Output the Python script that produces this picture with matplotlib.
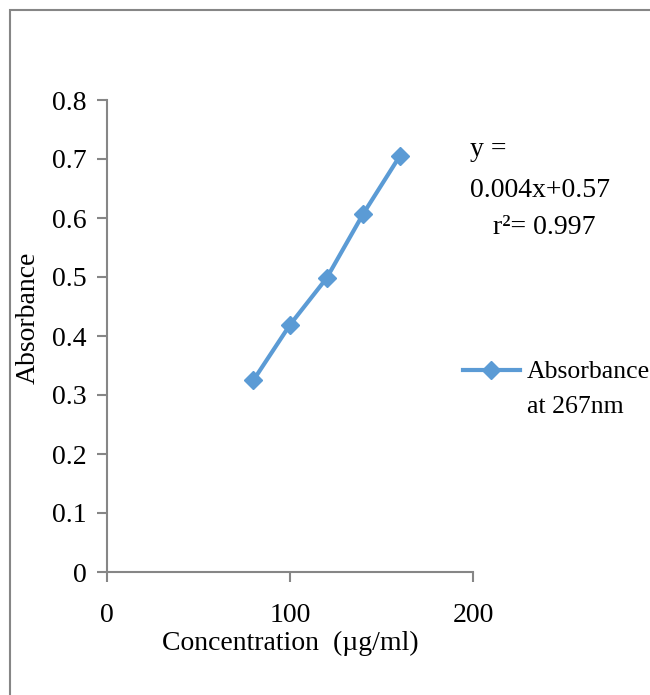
import numpy as np
import matplotlib.pyplot as plt
from matplotlib.patches import Rectangle

# calibration data
conc = [80, 100, 120, 140, 160]
absorb = [0.325, 0.419, 0.498, 0.607, 0.705]
xticks = [0, 100, 200]
yticks = [0, 0.1, 0.2, 0.3, 0.4, 0.5, 0.6, 0.7, 0.8]

plt.rcParams['font.family'] = ['Liberation Serif', 'DejaVu Serif']
blue = '#5b9bd5'
grey = '#868686'
fs = 20

fig = plt.figure(figsize=(6.5, 6.95), dpi=100)
ax = fig.add_axes([107/650, 1 - 572/695, (473 - 107)/650, (572 - 100)/695])

# outer frame of the picture
fig.patches.append(Rectangle((10/650, -0.05), 1.0, 1 - 10/695 + 0.05,
                             transform=fig.transFigure, fill=False,
                             edgecolor=grey, lw=1.5))

line, = ax.plot(conc, absorb, color=blue, lw=3, marker='D', ms=9.5,
                label='Absorbance')

ax.set_xlim(0, 200)
ax.set_ylim(0, 0.8)
ax.set_xticks(xticks)
ax.set_yticks(yticks)
ax.set_yticklabels(['0'] + [f'{v:.1f}' for v in yticks[1:]])
for s in ['top', 'right']:
    ax.spines[s].set_visible(False)
for s in ['left', 'bottom']:
    ax.spines[s].set_color(grey)
    ax.spines[s].set_linewidth(1.5)
ax.tick_params(direction='out', length=7.5, width=1.5, color=grey,
               labelsize=fs)
ax.tick_params(axis='x', pad=15)
ax.tick_params(axis='y', pad=7)

ax.set_xlabel('Concentration  (µg/ml)', fontsize=fs, labelpad=2)
ax.set_ylabel('Absorbance', fontsize=fs)
ax.yaxis.set_label_coords(-66/366, 0.538)

# trendline equation
fig.text(470/650, 1 - 150/695, 'y =', fontsize=fs, va='center')
fig.text(470/650, 1 - 190/695, '0.004x+0.57', fontsize=fs, va='center')
fig.text(493/650, 1 - 227/695, 'r²= 0.997', fontsize=fs, va='center')

fig.legend(handles=[line], loc='center left', bbox_to_anchor=(463/650, 1 - 372/695),
           frameon=False, fontsize=18.5, handlelength=2.2, handletextpad=0.28,
           borderpad=0, borderaxespad=0)
fig.text(527/650, 1 - 407/695, 'at 267nm', fontsize=18.5, va='center')

fig.savefig('out.png', dpi=100)
